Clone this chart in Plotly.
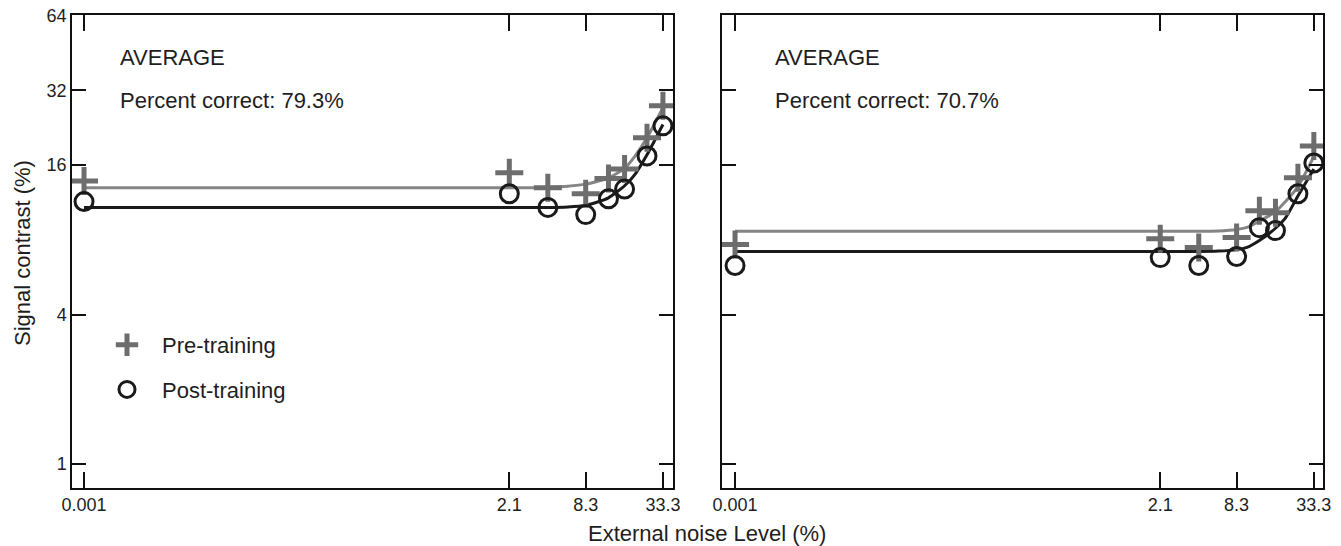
import plotly.graph_objects as go

# External noise levels (%) at which thresholds were measured
noise = [0.001, 2.1, 4.2, 8.3, 12.5, 16.7, 25, 33.3]

# Left panel thresholds (signal contrast, %)
pre_left = [13.8, 14.9, 12.95, 12.25, 14.1, 15.4, 20.6, 27.7]
post_left = [11.4, 12.25, 10.8, 10.1, 11.7, 12.8, 17.4, 23.0]

# Right panel thresholds (signal contrast, %)
pre_right = [7.65, 8.08, 7.44, 8.16, 10.47, 10.28, 14.2, 19.1]
post_right = [6.3, 6.78, 6.3, 6.85, 8.95, 8.71, 12.25, 16.3]

# Fitted threshold curves, sampled along the noise axis
fit_noise = [0.001, 2.1, 4.2, 6, 8.3, 10, 12.5, 16.7, 20, 25, 33.3]
fit_pre_left = [12.95, 12.95, 13.0, 13.15, 13.4, 13.7, 14.2, 15.5, 17.3, 20.6, 27.2]
fit_post_left = [10.8, 10.8, 10.8, 10.85, 11.0, 11.3, 11.8, 13.2, 14.6, 17.6, 23.3]
fit_pre_right = [8.65, 8.65, 8.65, 8.68, 8.8, 8.97, 9.5, 10.4, 11.4, 13.1, 17.3]
fit_post_right = [7.17, 7.17, 7.17, 7.2, 7.3, 7.46, 7.95, 8.9, 9.8, 12.0, 15.4]

panel_titles = ["AVERAGE", "AVERAGE"]
panel_scores = ["Percent correct: 79.3%", "Percent correct: 70.7%"]

x_ticks = [0.001, 2.1, 8.3, 33.3]
x_ticklabels = ["0.001", "2.1", "8.3", "33.3"]
y_ticks = [1, 4, 16, 32, 64]
y_ticklabels = ["1", "4", "16", "32", "64"]

W, H = 1341, 546
FONT = "Liberation Sans, Arial, Helvetica, sans-serif"
TXT = "#1e1e1e"
GRAY_MARK = "#6d6d6d"
GRAY_LINE = "#858585"
BLACK = "#1a1a1a"

fig = go.Figure()

panels = [
    ("x", "y", fit_pre_left, fit_post_left, pre_left, post_left, True),
    ("x2", "y2", fit_pre_right, fit_post_right, pre_right, post_right, False),
]
for xa, ya, fpre, fpost, pre, post, show in panels:
    fig.add_trace(go.Scatter(x=fit_noise, y=fpre, mode="lines", xaxis=xa, yaxis=ya,
                             line=dict(color=GRAY_LINE, width=3, shape="spline", smoothing=0.6),
                             showlegend=False, hoverinfo="skip"))
    fig.add_trace(go.Scatter(x=fit_noise, y=fpost, mode="lines", xaxis=xa, yaxis=ya,
                             line=dict(color=BLACK, width=3, shape="spline", smoothing=0.6),
                             showlegend=False, hoverinfo="skip"))
    fig.add_trace(go.Scatter(x=noise, y=pre, mode="markers", xaxis=xa, yaxis=ya,
                             name="Pre-training", legendgroup="pre", showlegend=show,
                             marker=dict(symbol="cross-thin", size=20, color=GRAY_MARK,
                                         line=dict(color=GRAY_MARK, width=5))))
    fig.add_trace(go.Scatter(x=noise, y=post, mode="markers", xaxis=xa, yaxis=ya,
                             name="Post-training", legendgroup="post", showlegend=show,
                             marker=dict(symbol="circle-open", size=18, color=BLACK,
                                         line=dict(color=BLACK, width=3))))

axis_common = dict(
    type="log", showgrid=False, zeroline=False, showline=True, linecolor="#111111",
    linewidth=1.5, mirror="ticks", ticks="inside", tickcolor="#111111", tickwidth=1.5,
    tickfont=dict(family=FONT, size=18, color=TXT), automargin=False,
)

Y_RANGE = [-0.0964, 1.808]

fig.update_layout(
    width=W, height=H,
    margin=dict(l=0, r=0, t=0, b=0, autoexpand=False),
    paper_bgcolor="white", plot_bgcolor="white",
    font=dict(family=FONT, color=TXT),
    xaxis=dict(axis_common, domain=[72 / W, 673 / W], range=[-3.094, 1.601],
               tickvals=x_ticks, ticktext=x_ticklabels, ticklen=16, anchor="y"),
    xaxis2=dict(axis_common, domain=[722 / W, 1323 / W], range=[-3.102, 1.594],
                tickvals=x_ticks, ticktext=x_ticklabels, ticklen=16, anchor="y2"),
    yaxis=dict(axis_common, domain=[1 - 488 / H, 1 - 15 / H], range=Y_RANGE,
               tickvals=y_ticks, ticktext=y_ticklabels, ticklen=14, anchor="x"),
    yaxis2=dict(axis_common, domain=[1 - 488 / H, 1 - 15 / H], range=Y_RANGE,
                tickvals=y_ticks, ticktext=y_ticklabels, ticklen=14, anchor="x2",
                showticklabels=False),
    legend=dict(x=92 / W, y=1 - 324 / H, xanchor="left", yanchor="top",
                font=dict(family=FONT, size=22, color=TXT), bgcolor="rgba(0,0,0,0)",
                traceorder="grouped", tracegroupgap=13, itemwidth=60),
    showlegend=True,
)

annotations = []
for i, (xref, yref) in enumerate([("x domain", "y domain"), ("x2 domain", "y2 domain")]):
    left_px = [118, 773][i]
    dom0 = [72, 722][i]
    xx = (left_px - dom0) / 601
    annotations.append(dict(text=panel_titles[i], xref=xref, yref=yref, x=xx,
                            y=(488 - 57) / 473, xanchor="left", yanchor="middle",
                            showarrow=False, font=dict(family=FONT, size=22, color=TXT)))
    annotations.append(dict(text=panel_scores[i], xref=xref, yref=yref, x=xx,
                            y=(488 - 100) / 473, xanchor="left", yanchor="middle",
                            showarrow=False, font=dict(family=FONT, size=22, color=TXT)))

# axis titles
annotations.append(dict(text="External noise Level (%)", xref="paper", yref="paper",
                        x=707 / W, y=1 - 533 / H, xanchor="center", yanchor="middle",
                        showarrow=False, font=dict(family=FONT, size=22, color=TXT)))
annotations.append(dict(text="Signal contrast (%)", xref="paper", yref="paper",
                        x=22 / W, y=1 - 253 / H, xanchor="center", yanchor="middle",
                        textangle=-90, showarrow=False,
                        font=dict(family=FONT, size=22, color=TXT)))
fig.update_layout(annotations=annotations)

fig.write_html("out.html")
